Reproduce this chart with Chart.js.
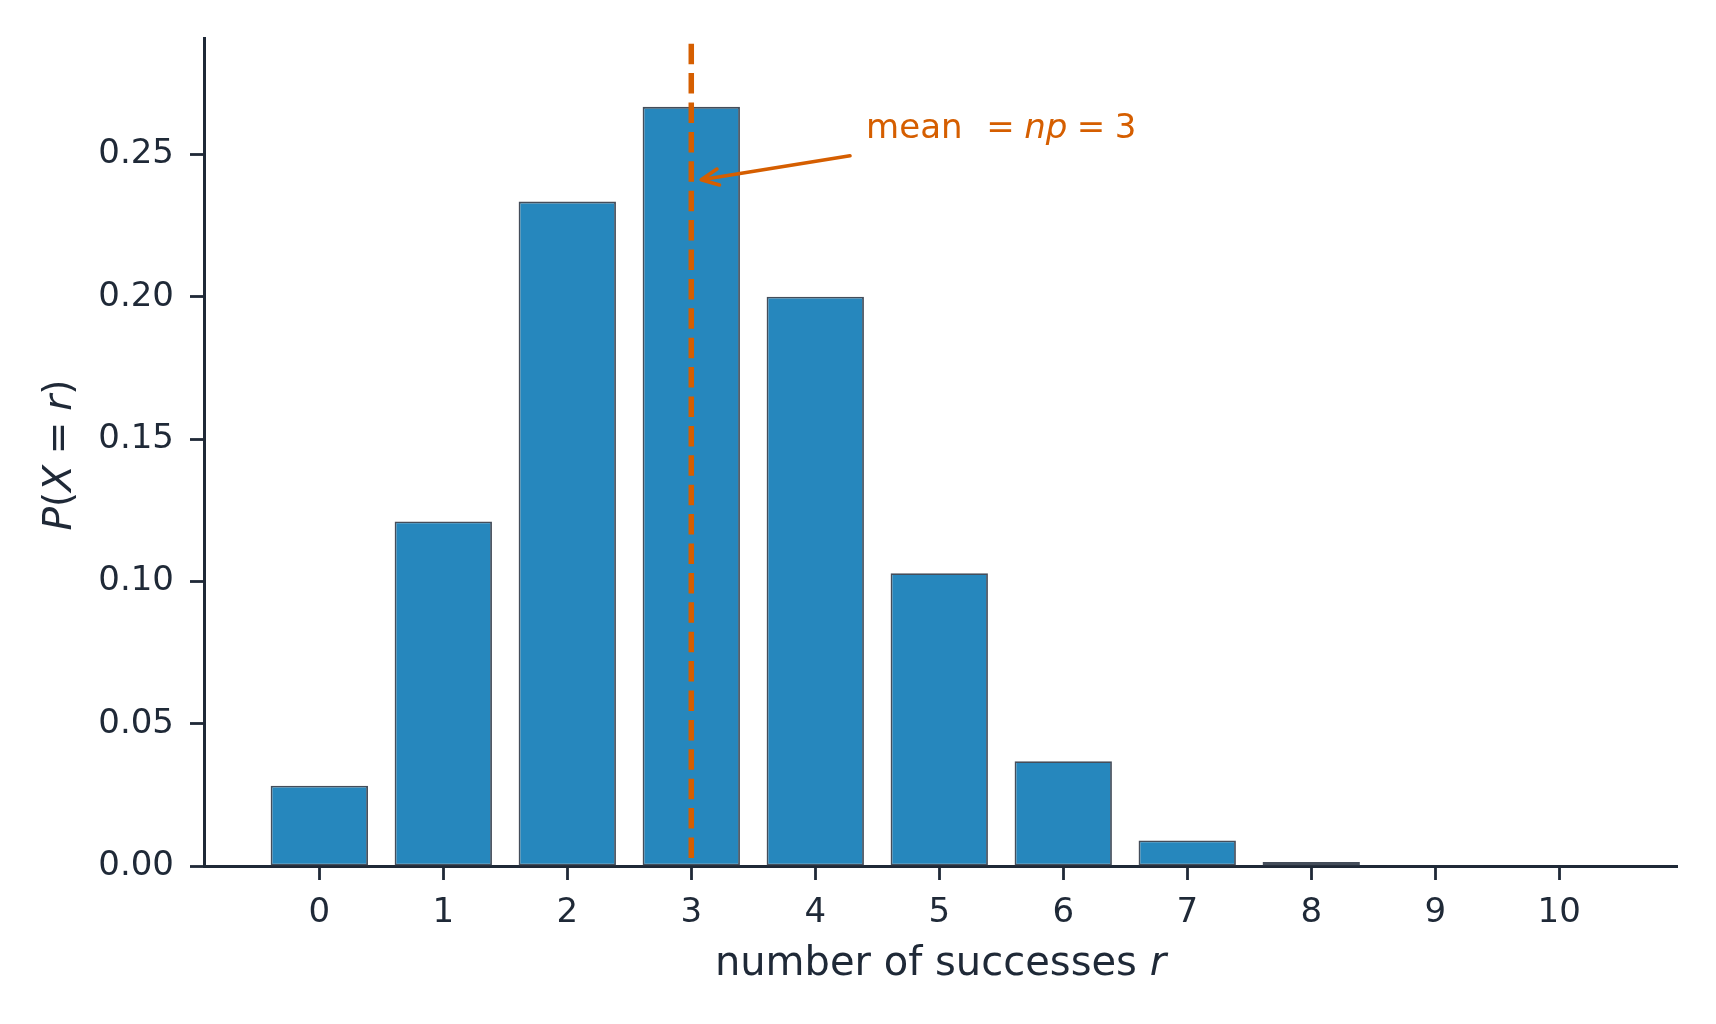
<!DOCTYPE html>
<html>
<head>
<meta charset="utf-8">
<script src="https://cdn.jsdelivr.net/npm/chart.js@4.4.1/dist/chart.umd.min.js"></script>
<style>
  html, body { margin: 0; padding: 0; background: #fff; }
  #wrap { width: 1716px; height: 1024px; }
</style>
</head>
<body>
<div id="wrap"><canvas id="binomChart" width="1716" height="1024"></canvas></div>
<script>
// Binomial distribution, n = 10, p = 0.3
const successes = [0, 1, 2, 3, 4, 5, 6, 7, 8, 9, 10];
const probs = [0.0282, 0.1211, 0.2335, 0.2668, 0.2001, 0.1029, 0.0368, 0.0090, 0.0014, 0.0001, 0.0000];
const xTicks = [0, 1, 2, 3, 4, 5, 6, 7, 8, 9, 10];
const yTicks = [0, 0.05, 0.10, 0.15, 0.20, 0.25];
const meanValue = 3;

const ink = '#1f2937';
const orange = '#d55e00';
const fam = '"DejaVu Sans"';

// draw a row of text pieces, some italic (mathtext-ish)
function runsWidth(ctx, runs, size) {
  let w = 0;
  runs.forEach(r => {
    w += (r.gap || 0) * size;
    ctx.font = (r.it ? 'italic ' : '') + size + 'px ' + fam;
    w += ctx.measureText(r.t).width;
  });
  return w;
}
function drawRuns(ctx, runs, x, y, size) {
  runs.forEach(r => {
    x += (r.gap || 0) * size;
    ctx.font = (r.it ? 'italic ' : '') + size + 'px ' + fam;
    ctx.fillText(r.t, x, y);
    x += ctx.measureText(r.t).width;
  });
}

const noteRuns = [{t: 'mean'}, {t: '=', gap: 0.7}, {t: 'np', it: 1, gap: 0.278}, {t: '=', gap: 0.278}, {t: '3', gap: 0.278}];
const xTitleRuns = [{t: 'number of successes '}, {t: 'r', it: 1}];
const yTitleRuns = [{t: 'P', it: 1}, {t: '('}, {t: 'X', it: 1}, {t: '=', gap: 0.278}, {t: 'r', it: 1, gap: 0.278}, {t: ')'}];

const decor = {
  id: 'decor',
  afterDatasetsDraw(chart) {
    const {ctx, chartArea: a, scales: {x, y}} = chart;
    ctx.save();
    // mean line
    const mx = x.getPixelForValue(meanValue);
    ctx.strokeStyle = orange;
    ctx.lineWidth = 5.5;
    ctx.setLineDash([20.5, 8.9]);
    ctx.lineDashOffset = 23.7;
    ctx.beginPath();
    ctx.moveTo(mx, a.top);
    ctx.lineTo(mx, a.bottom);
    ctx.stroke();
    ctx.setLineDash([]);

    // arrow to the mean
    const x0 = x.getPixelForValue(4.28), y0 = y.getPixelForValue(0.2496);
    const x1 = x.getPixelForValue(3.08), y1 = y.getPixelForValue(0.2412);
    const ang = Math.atan2(y1 - y0, x1 - x0);
    const hl = 19, spread = 25 * Math.PI / 180;
    ctx.lineWidth = 3.6;
    ctx.lineCap = 'round';
    ctx.lineJoin = 'round';
    ctx.beginPath();
    ctx.moveTo(x0, y0);
    ctx.lineTo(x1, y1);
    ctx.moveTo(x1 - hl * Math.cos(ang - spread), y1 - hl * Math.sin(ang - spread));
    ctx.lineTo(x1, y1);
    ctx.lineTo(x1 - hl * Math.cos(ang + spread), y1 - hl * Math.sin(ang + spread));
    ctx.stroke();

    // label
    ctx.fillStyle = orange;
    ctx.textBaseline = 'alphabetic';
    ctx.textAlign = 'left';
    drawRuns(ctx, noteRuns, x.getPixelForValue(4.41), y.getPixelForValue(0.2558), 34);
    ctx.restore();
  },
  afterDraw(chart) {
    const {ctx, chartArea: a} = chart;
    ctx.save();
    ctx.fillStyle = ink;
    ctx.textBaseline = 'alphabetic';
    ctx.textAlign = 'left';
    // x title
    const xs = 40;
    const xw = runsWidth(ctx, xTitleRuns, xs);
    drawRuns(ctx, xTitleRuns, (a.left + a.right) / 2 - xw / 2, 975, xs);
    // y title
    const ys = 39;
    const yw = runsWidth(ctx, yTitleRuns, ys);
    ctx.translate(70.5, (a.top + a.bottom) / 2 + 3);
    ctx.rotate(-Math.PI / 2);
    drawRuns(ctx, yTitleRuns, -yw / 2, 0, ys);
    ctx.restore();
  }
};

const ctx = document.getElementById('binomChart').getContext('2d');
const myChart = new Chart(ctx, {
    type: 'bar',
    data: {
        datasets: [{
            label: 'P(X = r)',
            data: successes.map((r, i) => ({x: r, y: probs[i]})),
            backgroundColor: '#2687bd',
            borderColor: '#444d5a',
            borderWidth: 1.8,
            borderSkipped: false,
            barPercentage: 0.785,
            categoryPercentage: 1
        }]
    },
    options: {
        responsive: false,
        devicePixelRatio: 1,
        animation: false,
        layout: { padding: { left: 0, top: 38, right: 39, bottom: 0 } },
        plugins: { legend: { display: false }, tooltip: { enabled: false } },
        scales: {
            x: {
                type: 'linear',
                min: -0.93,
                max: 10.95,
                offset: false,
                z: 1,
                afterBuildTicks: s => { s.ticks = xTicks.map(v => ({value: v})); },
                afterFit: s => { s.height = 158; },
                grid: { offset: false, drawOnChartArea: false, tickLength: 14, tickWidth: 2.8, tickColor: ink, color: ink },
                border: { display: true, color: ink, width: 3 },
                ticks: {
                    font: { family: 'DejaVu Sans', size: 34 },
                    color: ink,
                    padding: 13,
                    maxRotation: 0,
                    autoSkip: false,
                    callback: v => String(v)
                }
            },
            y: {
                min: 0,
                max: 0.291,
                z: 1,
                afterBuildTicks: s => { s.ticks = yTicks.map(v => ({value: v})); },
                afterFit: s => { s.width = 204; },
                grid: { drawOnChartArea: false, tickLength: 14, tickWidth: 2.8, tickColor: ink, color: ink },
                border: { display: true, color: ink, width: 3 },
                ticks: {
                    font: { family: 'DejaVu Sans', size: 34 },
                    color: ink,
                    padding: 16,
                    callback: v => v.toFixed(2)
                }
            }
        }
    },
    plugins: [decor]
});
</script>
</body>
</html>
